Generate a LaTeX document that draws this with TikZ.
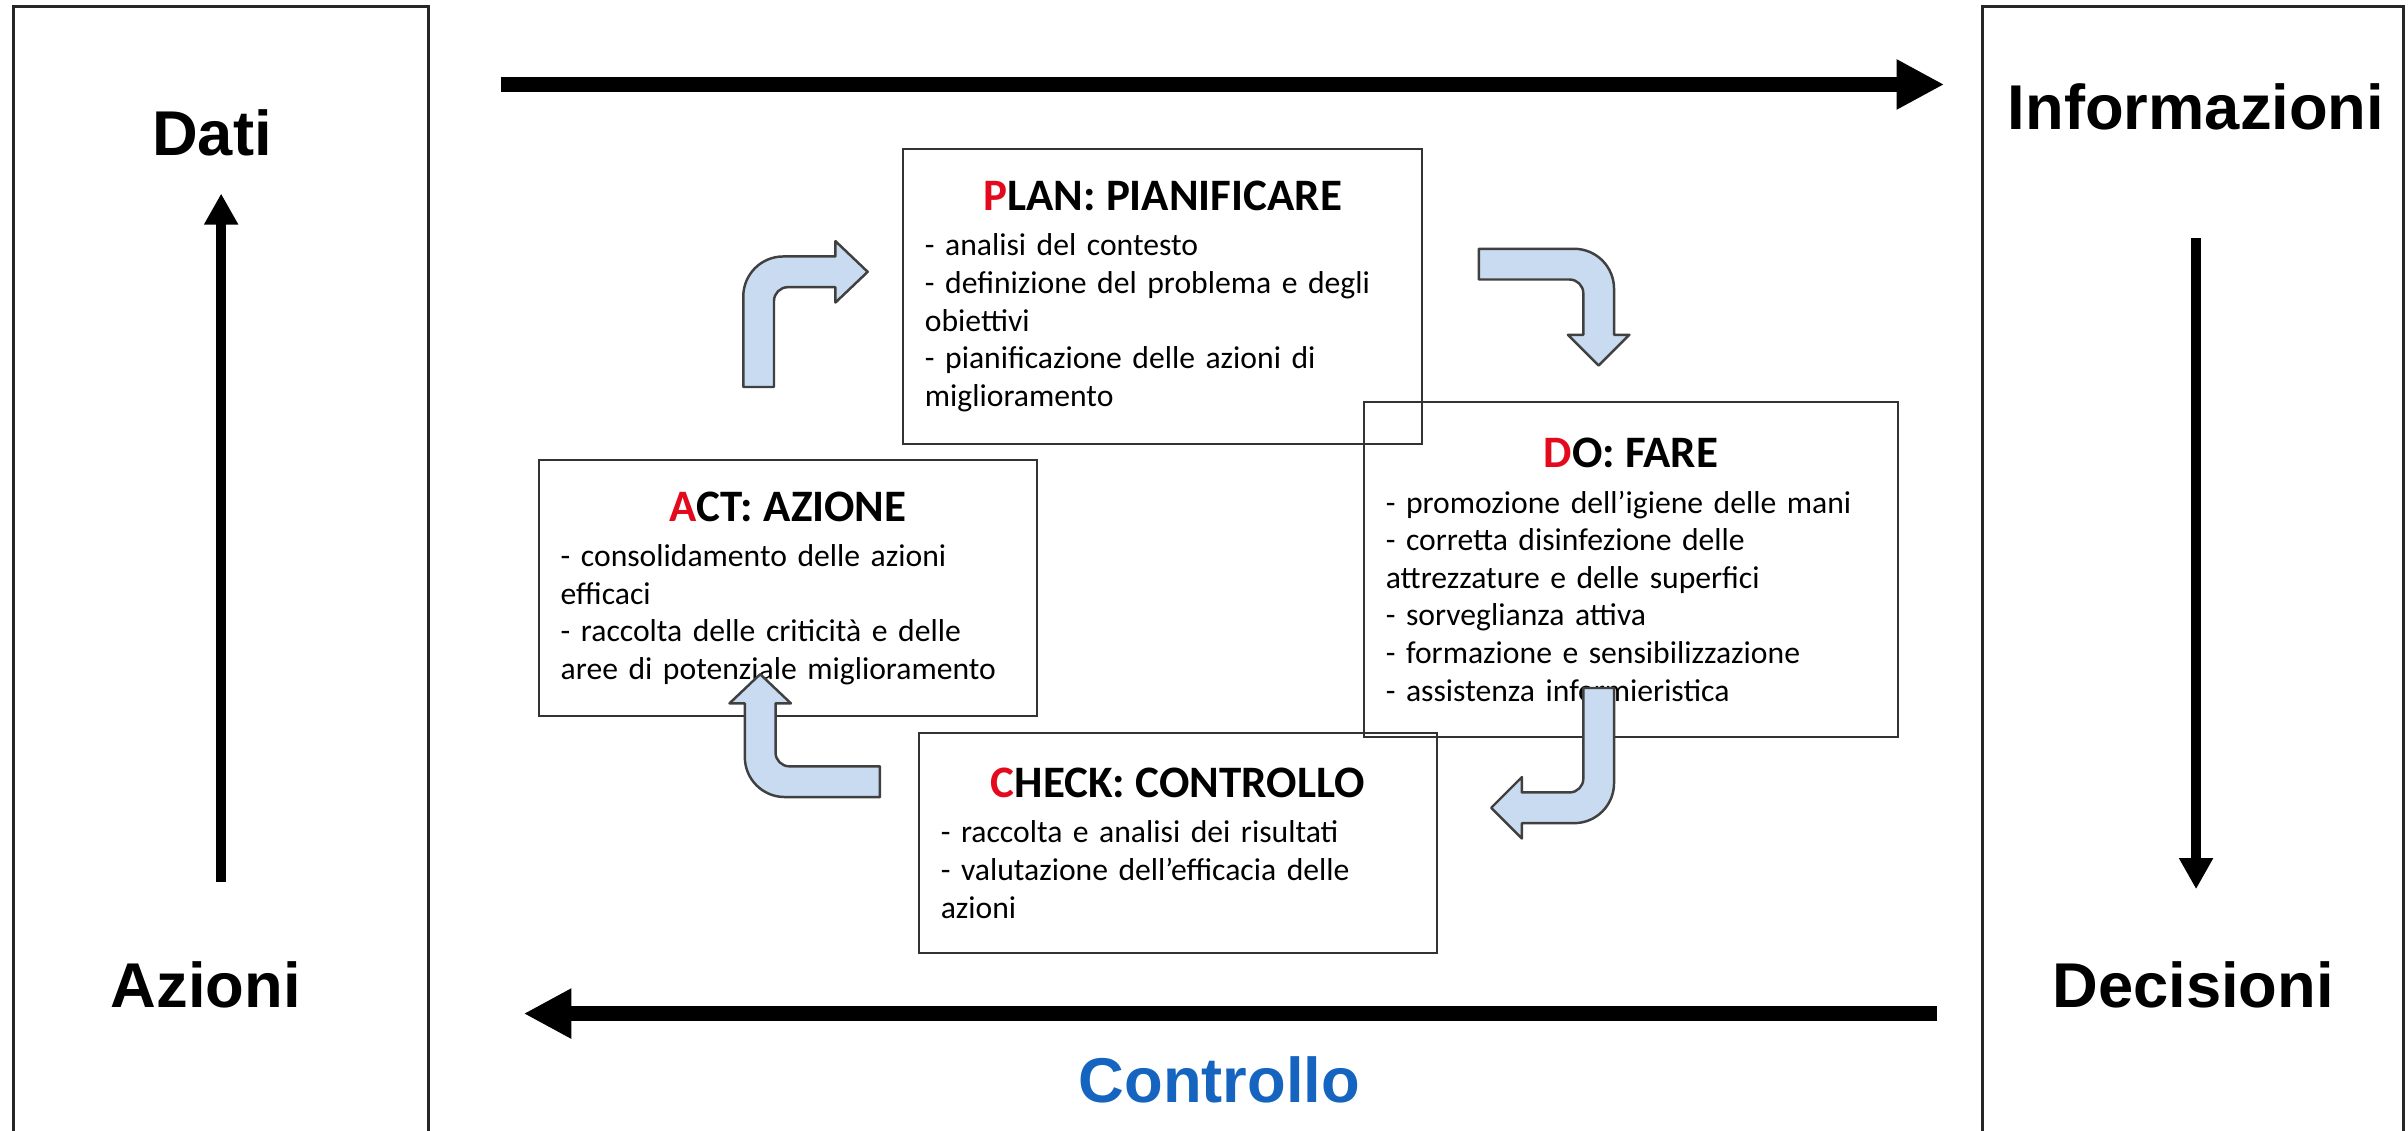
\documentclass[tikz,border=0pt]{standalone}
\usepackage{fontspec}
\setmainfont{Carlito}
\newfontfamily\arialfont{Liberation Sans}
\usetikzlibrary{arrows.meta, positioning}
\definecolor{pdcared}{RGB}{228,10,30}
\definecolor{bluarrow}{RGB}{200,219,240}
\definecolor{blutesto}{RGB}{21,101,192}
\tikzstyle{fase} = [rectangle, draw=black!80, line width=0.6pt, align=left, inner xsep=0.22cm, inner ysep=0pt, font=\fontsize{9}{10.7}\selectfont]
\tikzstyle{cornice} = [draw=black!85, line width=0.8pt]
\tikzstyle{etichetta} = [anchor=base, font=\arialfont\bfseries\fontsize{18}{21}\selectfont]
\tikzstyle{freccia} = [line width=2.83pt, -{Triangle[length=0.31cm,width=0.32cm]}]
\tikzstyle{frecciona} = [line width=4.45pt, -{Triangle[length=0.476cm,width=0.468cm]}]
\tikzstyle{curva} = [fill=bluarrow, draw=black!75, line width=0.7pt, line join=round]
\newcommand{\titolo}[2]{\makebox[\hsize][c]{\fontsize{12.8}{14}\selectfont\bfseries\textcolor{pdcared}{#1}#2}\\[2.2pt]}

\begin{document}
\begin{tikzpicture}[x=0.015357cm, y=-0.015357cm]
\useasboundingbox (0,0) rectangle (1568,736);

% Cornici laterali
\draw[cornice] (9,4) rectangle (279,760);
\draw[cornice] (1291,4) rectangle (1565,760);

% Etichette
\node (dati) [etichetta] at (138,101) {Dati};
\node (azioni) [etichetta] at (134,656) {Azioni};
\node (informazioni) [etichetta] at (1430,84) {Informazioni};
\node (decisioni) [etichetta] at (1428,656) {Decisioni};
\node (controllo) [etichetta, text=blutesto] at (794,718) {Controllo};

% Plan
\node (plan) [fase, text width=4.75cm, minimum width=5.19cm, minimum height=2.95cm] at (757,193) {
    \titolo{P}{LAN: PIANIFICARE}
    - analisi del contesto\\
    - definizione del problema e degli\\
    obiettivi\\
    - pianificazione delle azioni di\\
    miglioramento
};

% Do
\node (do) [fase, text width=4.90cm, minimum width=5.34cm, minimum height=3.35cm] at (1062,371) {
    \titolo{D}{O: FARE}
    - promozione dell’igiene delle mani\\
    - corretta disinfezione delle\\
    attrezzature e delle superfici\\
    - sorveglianza attiva\\
    - formazione e sensibilizzazione\\
    - assistenza infermieristica
};

% Act
\node (act) [fase, text width=4.54cm, minimum width=4.98cm, minimum height=2.56cm] at (513,383) {
    \titolo{A}{CT: AZIONE}
    - consolidamento delle azioni\\
    efficaci\\
    - raccolta delle criticità e delle\\
    aree di potenziale miglioramento
};

% Check
\node (check) [fase, text width=4.74cm, minimum width=5.18cm, minimum height=2.20cm] at (767,549) {
    \titolo{C}{HECK: CONTROLLO}
    - raccolta e analisi dei risultati\\
    - valutazione dell’efficacia delle\\
    azioni
};

% Frecce del ciclo
\draw[curva] (484,252) -- (484,193) arc[start angle=180, end angle=270, radius=26] -- (544,167) -- (544,157) -- (565,177) -- (544,197) -- (544,187) -- (513,187) arc[start angle=270, end angle=180, radius=9] -- (504,252) -- cycle;
\draw[curva] (963,162) -- (1025,162) arc[start angle=270, end angle=360, radius=26] -- (1051,218) -- (1061,218) -- (1041,238) -- (1021,218) -- (1031,218) -- (1031,191) arc[start angle=0, end angle=-90, radius=9] -- (963,182) -- cycle;
\draw[curva] (1031,448) -- (1051,448) -- (1051,510) arc[start angle=0, end angle=90, radius=26] -- (991,536) -- (991,546) -- (971,526) -- (991,506) -- (991,516) -- (1022,516) arc[start angle=90, end angle=0, radius=9] -- cycle;
\draw[curva] (573,499) -- (573,519) -- (511,519) arc[start angle=90, end angle=180, radius=26] -- (485,458) -- (475,458) -- (495,439) -- (515,458) -- (505,458) -- (505,490) arc[start angle=180, end angle=90, radius=9] -- cycle;

% Frecce esterne
\coordinate (sxbasso) at (144,574);
\coordinate (sxalto) at (144,126);
\coordinate (dxalto) at (1430,155);
\coordinate (dxbasso) at (1430,579);
\coordinate (supinizio) at (326,55);
\coordinate (supfine) at (1266,55);
\coordinate (infinizio) at (1261,660);
\coordinate (inffine) at (341,660);
\draw[freccia] (sxbasso) -- (sxalto);
\draw[freccia] (dxalto) -- (dxbasso);
\draw[frecciona] (supinizio) -- (supfine);
\draw[frecciona] (infinizio) -- (inffine);

\end{tikzpicture}
\end{document}
